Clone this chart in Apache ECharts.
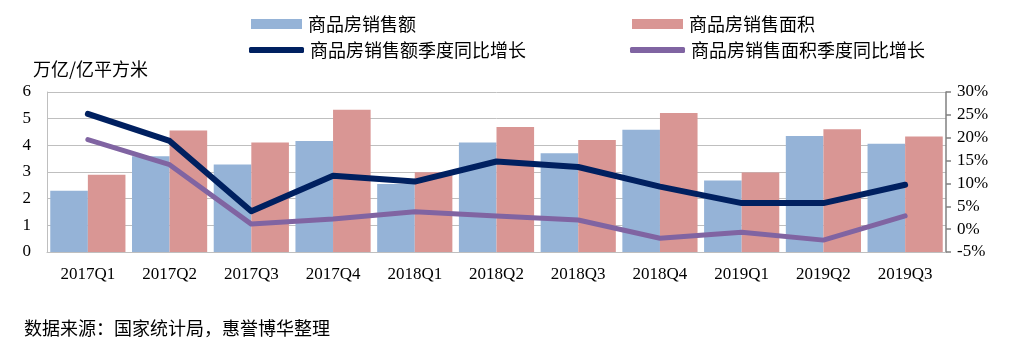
<!DOCTYPE html>
<html>
<head>
<meta charset="utf-8">
<style>
  html, body { margin: 0; padding: 0; background: #fff; }
  #chart { width: 1032px; height: 350px; }
</style>
<script src="https://cdn.jsdelivr.net/npm/echarts@6/dist/echarts.min.js"></script>
</head>
<body>
<div id="chart"></div>
<script>
const categories = ['2017Q1', '2017Q2', '2017Q3', '2017Q4', '2018Q1', '2018Q2', '2018Q3', '2018Q4', '2019Q1', '2019Q2', '2019Q3']
// 万亿元 / 亿平方米
const salesAmount = [2.30, 3.59, 3.28, 4.16, 2.55, 4.11, 3.70, 4.58, 2.68, 4.35, 4.06]
const salesArea = [2.90, 4.56, 4.11, 5.33, 2.99, 4.69, 4.20, 5.21, 2.98, 4.60, 4.33]
// 季度同比, %
const amountYoY = [25.2, 19.3, 3.9, 11.7, 10.4, 14.8, 13.6, 9.3, 5.7, 5.7, 9.7]
const areaYoY = [19.6, 14.1, 1.1, 2.2, 3.8, 2.9, 2.0, -2.0, -0.7, -2.4, 2.9]
const leftTicks = { min: 0, max: 6, interval: 1 }
const rightTicks = { min: -5, max: 30, interval: 5 }

const names = ['商品房销售额', '商品房销售面积', '商品房销售额季度同比增长', '商品房销售面积季度同比增长']
const colors = ['#95B3D7', '#D99694', '#002060', '#8064A2']

const serif = '"Liberation Serif", "Times New Roman", serif'
const cjk = '"Noto Sans CJK SC", sans-serif'

function makeLegend (name, left, top, isLine) {
  return {
    data: [{ name: name, icon: isLine ? 'roundRect' : 'rect' }],
    left: left,
    top: top,
    padding: 0,
    itemWidth: isLine ? 55 : 51,
    itemHeight: isLine ? 6 : 10,
    itemGap: 0,
    selectedMode: false,
    textStyle: { fontFamily: cjk, fontSize: 18, color: '#000', padding: [0, 0, 0, 1] }
  }
}

const chart = echarts.init(document.getElementById('chart'), null, { renderer: 'canvas' })

chart.setOption({
  animation: false,
  backgroundColor: '#fff',
  legend: [
    makeLegend(names[0], 251, 15, false),
    makeLegend(names[1], 632, 15, false),
    makeLegend(names[2], 249, 41, true),
    makeLegend(names[3], 630, 41, true)
  ],
  grid: { left: 47, right: 86, top: 92, bottom: 98 },
  xAxis: {
    type: 'category',
    data: categories,
    boundaryGap: true,
    axisLine: { lineStyle: { color: '#BFBFBF', width: 1 } },
    axisTick: { show: false },
    axisLabel: { fontFamily: serif, fontSize: 17, color: '#000', margin: 14 }
  },
  yAxis: [
    {
      type: 'value',
      min: leftTicks.min,
      max: leftTicks.max,
      interval: leftTicks.interval,
      axisLine: { show: true, lineStyle: { color: '#BFBFBF', width: 1 } },
      axisTick: { show: false },
      splitLine: { lineStyle: { color: '#BFBFBF', width: 1 } },
      axisLabel: { fontFamily: serif, fontSize: 17, color: '#000', margin: 16 }
    },
    {
      type: 'value',
      min: rightTicks.min,
      max: rightTicks.max,
      interval: rightTicks.interval,
      position: 'right',
      axisLine: { show: true, lineStyle: { color: '#808080', width: 1.5 } },
      axisTick: { show: true, inside: false, length: 5, lineStyle: { color: '#808080', width: 1.5 } },
      splitLine: { show: false },
      axisLabel: { fontFamily: serif, fontSize: 17, color: '#000', margin: 11, formatter: '{value}%' }
    }
  ],
  graphic: [
    {
      type: 'text',
      left: 33,
      top: 60,
      style: { text: '万亿/亿平方米', font: '18px ' + cjk, fill: '#000' }
    },
    {
      type: 'text',
      left: 24,
      top: 319,
      style: { text: '数据来源：国家统计局，惠誉博华整理', font: '18px ' + cjk, fill: '#000' }
    }
  ],
  series: [
    {
      name: names[0],
      type: 'bar',
      data: salesAmount,
      barGap: '0%',
      barCategoryGap: '8%',
      itemStyle: { color: colors[0] }
    },
    {
      name: names[1],
      type: 'bar',
      data: salesArea,
      barGap: '0%',
      barCategoryGap: '8%',
      itemStyle: { color: colors[1] }
    },
    {
      name: names[2],
      type: 'line',
      yAxisIndex: 1,
      data: amountYoY,
      symbol: 'none',
      lineStyle: { color: colors[2], width: 6, cap: 'round', join: 'round' },
      itemStyle: { color: colors[2] },
      z: 4
    },
    {
      name: names[3],
      type: 'line',
      yAxisIndex: 1,
      data: areaYoY,
      symbol: 'none',
      lineStyle: { color: colors[3], width: 5, cap: 'round', join: 'round' },
      itemStyle: { color: colors[3] },
      z: 3
    }
  ]
})
</script>
</body>
</html>
